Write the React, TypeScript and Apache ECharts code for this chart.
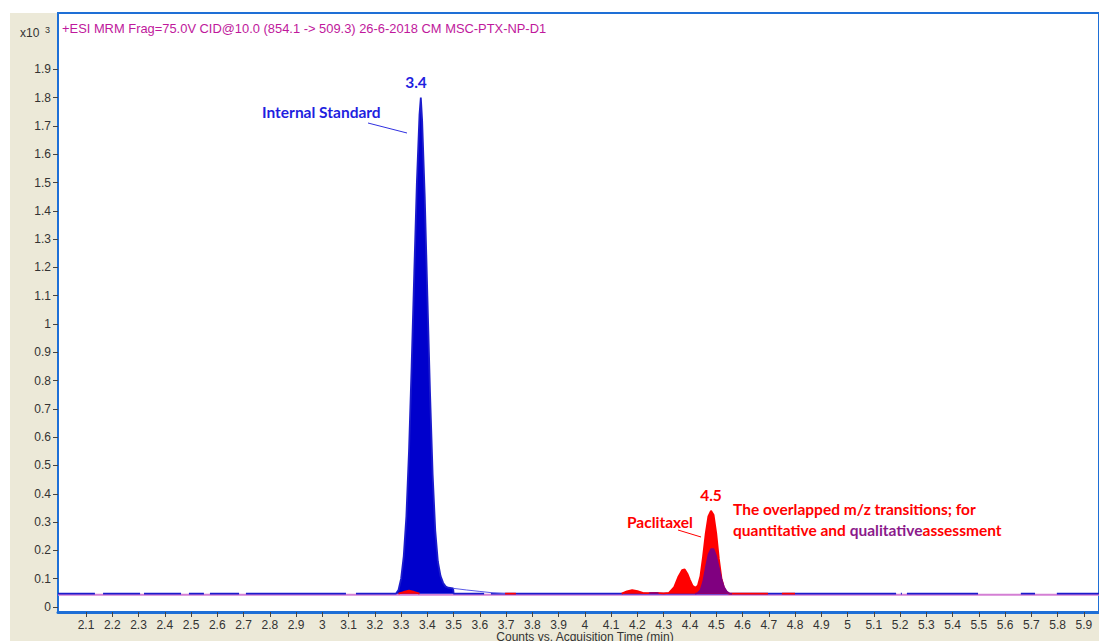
import React, { useEffect, useRef } from "react";
import * as echarts from "echarts";

// ---------- data ----------
const xTickValues = [2.1, 2.2, 2.3, 2.4, 2.5, 2.6, 2.7, 2.8, 2.9, 3, 3.1, 3.2, 3.3, 3.4, 3.5, 3.6, 3.7, 3.8, 3.9, 4, 4.1, 4.2, 4.3, 4.4, 4.5, 4.6, 4.7, 4.8, 4.9, 5, 5.1, 5.2, 5.3, 5.4, 5.5, 5.6, 5.7, 5.8, 5.9];
const yTickValues = [0, 0.1, 0.2, 0.3, 0.4, 0.5, 0.6, 0.7, 0.8, 0.9, 1, 1.1, 1.2, 1.3, 1.4, 1.5, 1.6, 1.7, 1.8, 1.9];

const xMin = 1.9934;
const xMax = 5.9576;
const yMin = -0.0177;
const yMax = 2.099;

// light magenta trace running along the baseline (x: min, y: counts x10^3)
const pinkBaseline: [number, number][] = [
  [1.9934, 0.043],
  [5.9576, 0.043],
];

// internal standard trace (blue)
const istdTrace: [number, number | null][] = [
  [1.9934, 0.047], [2.134, 0.047], [2.15, null], [2.165, 0.047],
  [2.306, 0.047], [2.313, null], [2.321, 0.047],
  [2.462, 0.047], [2.477, null], [2.492, 0.047],
  [2.549, 0.047], [2.56, null], [2.572, 0.047],
  [2.683, 0.047], [2.696, null], [2.709, 0.047],
  [3.09, 0.047], [3.11, null], [3.128, 0.047],
  [3.28, 0.047], [3.29, 0.06], [3.3, 0.1], [3.31, 0.18], [3.32, 0.32],
  [3.33, 0.55], [3.34, 0.85], [3.35, 1.18], [3.36, 1.5], [3.37, 1.74],
  [3.375, 1.8], [3.38, 1.72], [3.39, 1.45], [3.4, 1.1], [3.41, 0.76],
  [3.42, 0.47], [3.43, 0.27], [3.44, 0.16], [3.45, 0.11], [3.46, 0.085],
  [3.47, 0.072], [3.48, 0.068], [3.498, 0.066], [3.5, 0.047],
  [3.616, 0.047], [3.63, null], [3.642, 0.047],
  [5.185, 0.047], [5.2, null], [5.203, 0.047], [5.207, 0.047], [5.21, null], [5.226, 0.047],
  [5.497, 0.047], [5.58, null], [5.66, 0.047],
  [5.714, 0.047], [5.75, null], [5.797, 0.047], [5.9576, 0.047],
];

// thin tail after the internal standard peak
const istdTail: [number, number][] = [
  [3.498, 0.066], [3.55, 0.06], [3.6, 0.055], [3.65, 0.05], [3.7, 0.047],
];

// paclitaxel quantifier trace (red)
const paclitaxelTrace: [number, number | null][] = [
  [3.29, 0.047], [3.31, 0.053], [3.33, 0.058], [3.35, 0.053], [3.37, 0.047], [3.38, null],
  [3.696, 0.047], [3.737, 0.047], [3.74, null],
  [4.14, 0.047], [4.16, 0.055], [4.18, 0.06], [4.2, 0.056], [4.22, 0.05], [4.24, 0.049],
  [4.27, 0.05], [4.3, 0.048], [4.32, 0.05], [4.34, 0.07], [4.355, 0.105], [4.37, 0.13],
  [4.38, 0.133], [4.39, 0.118], [4.4, 0.095], [4.41, 0.075], [4.42, 0.068], [4.43, 0.075],
  [4.44, 0.11], [4.45, 0.18], [4.46, 0.26], [4.47, 0.32], [4.48, 0.34], [4.49, 0.325],
  [4.5, 0.26], [4.51, 0.17], [4.52, 0.1], [4.53, 0.065], [4.54, 0.05], [4.55, 0.047],
  [4.697, 0.047], [4.72, null], [4.75, 0.047], [4.8, 0.047],
];

// paclitaxel qualifier trace (purple)
const qualifierTrace: [number, number | null][] = [
  [4.245, 0.049], [4.28, 0.049], [4.29, null],
  [4.42, 0.047], [4.43, 0.05], [4.44, 0.06], [4.45, 0.09], [4.46, 0.14], [4.47, 0.185],
  [4.48, 0.205], [4.49, 0.205], [4.5, 0.18], [4.51, 0.14], [4.52, 0.1], [4.53, 0.07],
  [4.54, 0.055], [4.55, 0.048], [4.56, 0.047],
];

const BASE = 0.047;

const titleText = "+ESI MRM Frag=75.0V CID@10.0 (854.1 -> 509.3) 26-6-2018 CM MSC-PTX-NP-D1";
const xAxisTitle = "Counts vs. Acquisition Time (min)";

const AXIS_BLUE = "#1E6FD6";
const ANNO_FONT = "Lato, 'Open Sans', sans-serif";
const SANS = "'Liberation Sans', Arial, sans-serif";
const ANNO_SIZE = 15.5;

export default function App() {
  const ref = useRef<HTMLDivElement>(null);

  useEffect(() => {
    if (!ref.current) return;
    const chart = echarts.init(ref.current, undefined, { renderer: "svg" });

    const txt = (t: string, x: number, y: number, fill: string, size: number, weight: string, align: string, family: string) => ({
      type: "text",
      x,
      y,
      style: {
        text: t,
        fill,
        fontSize: size,
        fontWeight: weight,
        fontFamily: family,
        align,
        verticalAlign: "middle",
        textAlign: align,
        textVerticalAlign: "middle",
      },
      z: 100,
    });

    chart.setOption({
      animation: false,
      grid: {
        left: 58,
        top: 13,
        right: 0,
        bottom: 29,
        show: true,
        backgroundColor: "#ffffff",
        borderColor: AXIS_BLUE,
        borderWidth: 2,
      },
      xAxis: {
        type: "value",
        min: xMin,
        max: xMax,
        axisLine: { show: true, onZero: false, lineStyle: { color: AXIS_BLUE, width: 3 } },
        axisTick: { show: true, length: 5, customValues: xTickValues, lineStyle: { color: "#444" } },
        axisLabel: {
          customValues: xTickValues,
          margin: 6,
          color: "#333",
          fontSize: 12,
          lineHeight: 13,
          fontFamily: SANS,
        },
        splitLine: { show: false },
      },
      yAxis: {
        type: "value",
        min: yMin,
        max: yMax,
        axisLine: { show: true, onZero: false, lineStyle: { color: AXIS_BLUE, width: 2 } },
        axisTick: { show: true, length: 5, customValues: yTickValues, lineStyle: { color: "#444" } },
        axisLabel: {
          customValues: yTickValues,
          margin: 7,
          color: "#333",
          fontSize: 12,
          fontFamily: SANS,
        },
        splitLine: { show: false },
      },
      series: [
        {
          type: "line",
          data: pinkBaseline,
          showSymbol: false,
          lineStyle: { color: "#D47FD4", width: 2 },
          z: 2,
        },
        {
          type: "line",
          data: istdTrace,
          showSymbol: false,
          connectNulls: false,
          lineStyle: { color: "#1C1CCC", width: 1.8 },
          areaStyle: { color: "#0000CC", opacity: 1, origin: BASE },
          z: 3,
        },
        {
          type: "line",
          data: istdTail,
          showSymbol: false,
          lineStyle: { color: "#5A5AE6", width: 1 },
          z: 3,
        },
        {
          type: "line",
          data: paclitaxelTrace,
          showSymbol: false,
          connectNulls: false,
          lineStyle: { color: "#FF0000", width: 1.8 },
          areaStyle: { color: "#FF0000", opacity: 1, origin: BASE },
          z: 4,
        },
        {
          type: "line",
          data: qualifierTrace,
          showSymbol: false,
          connectNulls: false,
          lineStyle: { color: "#800080", width: 1.5 },
          areaStyle: { color: "#800080", opacity: 1, origin: BASE },
          z: 5,
        },
      ],
      graphic: [
        txt(titleText, 62, 28, "#C0189C", 12.9, "normal", "left", SANS),
        txt("x10", 20, 33, "#333", 12, "normal", "left", SANS),
        txt("3", 45, 30, "#333", 9, "normal", "left", SANS),
        txt(xAxisTitle, 585, 637, "#333", 12, "normal", "center", SANS),
        txt("3.4", 416, 82, "#1F1FDF", ANNO_SIZE, "bold", "center", ANNO_FONT),
        txt("Internal Standard", 262, 112, "#1F1FDF", ANNO_SIZE, "bold", "left", ANNO_FONT),
        {
          type: "line",
          shape: { x1: 368, y1: 123, x2: 407, y2: 133 },
          style: { stroke: "#3030E0", lineWidth: 1 },
          z: 100,
        },
        txt("4.5", 711, 495, "#FF0000", ANNO_SIZE, "bold", "center", ANNO_FONT),
        txt("Paclitaxel", 627, 522, "#FF0000", ANNO_SIZE, "bold", "left", ANNO_FONT),
        {
          type: "line",
          shape: { x1: 678, y1: 530, x2: 701, y2: 537 },
          style: { stroke: "#FF0000", lineWidth: 1 },
          z: 100,
        },
        txt("The overlapped m/z transitions; for", 733, 509, "#FF0000", ANNO_SIZE, "bold", "left", ANNO_FONT),
        {
          type: "text",
          x: 733,
          y: 530,
          z: 100,
          style: {
            text: "{r|quantitative and }{p|qualitative}{r|assessment}",
            align: "left",
            verticalAlign: "middle",
            textAlign: "left",
            textVerticalAlign: "middle",
            fontSize: ANNO_SIZE,
            fontWeight: "bold",
            fontFamily: ANNO_FONT,
            rich: {
              r: { fill: "#FF0000", fontSize: ANNO_SIZE, fontWeight: "bold", fontFamily: ANNO_FONT },
              p: { fill: "#8B1A8B", fontSize: ANNO_SIZE, fontWeight: "bold", fontFamily: ANNO_FONT },
            },
          },
        },
      ],
    });

    return () => chart.dispose();
  }, []);

  return (
    <div style={{ position: "absolute", left: 0, top: 0, width: 1099, height: 641, background: "#ffffff" }}>
      <div style={{ position: "absolute", left: 10, top: 13, width: 1089, height: 628, background: "#ECE9D8" }} />
      <div ref={ref} style={{ position: "absolute", left: 0, top: 0, width: 1099, height: 641 }} />
    </div>
  );
}
